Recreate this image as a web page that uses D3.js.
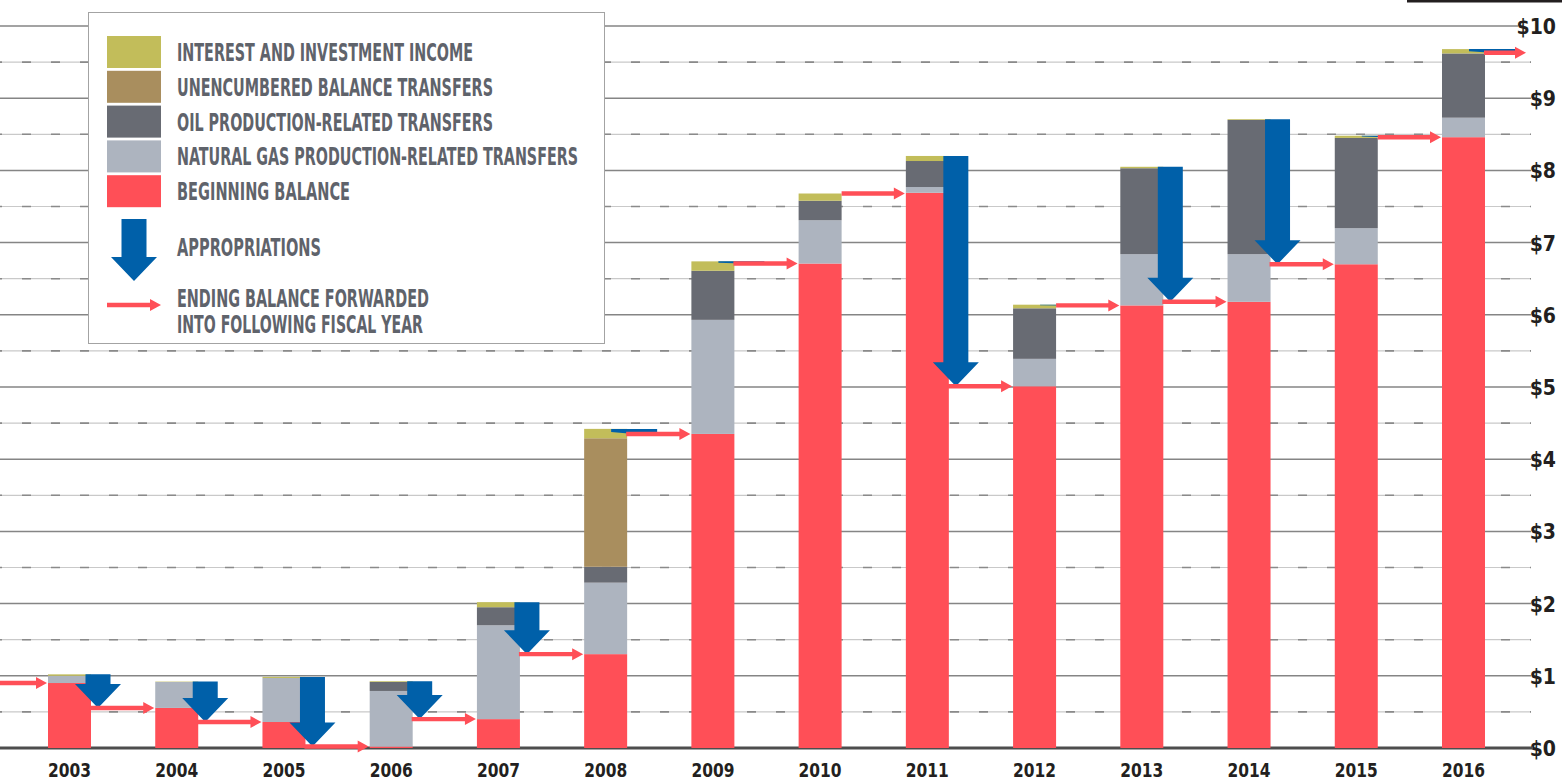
<!DOCTYPE html>
<html>
<head>
<meta charset="utf-8">
<script src="https://cdn.jsdelivr.net/npm/d3@7"></script>
<style>
  body { margin: 0; background: #fff; }
  svg text { font-family: "Liberation Sans Narrow", "DejaVu Sans Condensed", "Roboto", sans-serif; font-weight: bold; font-stretch: condensed; }
</style>
</head>
<body>
<div id="chart"></div>
<script>
// values in $ billions
var years = ["2003","2004","2005","2006","2007","2008","2009","2010","2011","2012","2013","2014","2015","2016"];
var beginning    = [0.90, 0.555, 0.36, 0.02, 0.40, 1.30, 4.35, 6.71, 7.69, 5.01, 6.13, 6.18, 6.70, 8.46];
var gas          = [0.10, 0.36, 0.61, 0.77, 1.30, 0.99, 1.58, 0.60, 0.08, 0.38, 0.71, 0.66, 0.50, 0.27];
var oil          = [0.00, 0.00, 0.00, 0.125, 0.25, 0.22, 0.68, 0.27, 0.36, 0.70, 1.19, 1.86, 1.25, 0.89];
var unencumbered = [0, 0, 0, 0, 0, 1.78, 0, 0, 0, 0, 0, 0, 0, 0];
var interest     = [0.02, 0.005, 0.015, 0.01, 0.07, 0.13, 0.13, 0.10, 0.07, 0.05, 0.02, 0.01, 0.03, 0.06];
// ending balance forwarded into the following fiscal year
var ending       = [0.555, 0.36, 0.02, 0.40, 1.30, 4.35, 6.71, 7.68, 5.01, 6.13, 6.18, 6.70, 8.46, 9.63];
var yTicks = [0,1,2,3,4,5,6,7,8,9,10];

var legendItems = [
  {key: "interest", label: "INTEREST AND INVESTMENT INCOME", w: 296},
  {key: "unencumbered", label: "UNENCUMBERED BALANCE TRANSFERS", w: 316},
  {key: "oil", label: "OIL PRODUCTION-RELATED TRANSFERS", w: 316},
  {key: "gas", label: "NATURAL GAS PRODUCTION-RELATED TRANSFERS", w: 401},
  {key: "beginning", label: "BEGINNING BALANCE", w: 173}
];

var colors = {
  beginning: "#ff4f57",
  gas: "#adb4bf",
  oil: "#686b73",
  unencumbered: "#a98e5e",
  interest: "#c2bd5a"
};
var blue = "#0060a9", red = "#ff4f57";

var width = 1562, height = 784;

var svg = d3.select("#chart")
  .append("svg")
    .attr("width", width)
    .attr("height", height);

var x = d3.scaleBand()
  .domain(years)
  .range([48, 1485])
  .paddingInner(0.599)
  .paddingOuter(0);

var y = d3.scaleLinear()
  .domain([0, 10])
  .range([748, 26]);

// top rule
svg.append("line")
  .attr("x1", 1407).attr("x2", width)
  .attr("y1", 1).attr("y2", 1)
  .attr("stroke", "#231f20").attr("stroke-width", 3);

// y labels on the right
svg.append("g")
  .selectAll("text")
  .data(yTicks)
  .enter()
  .append("text")
    .attr("x", 1556)
    .attr("y", function (d) { return y(d); })
    .attr("dy", "0.38em")
    .attr("text-anchor", "end")
    .attr("font-size", 21)
    .attr("fill", "#231f20")
    .text(function (d) { return "$" + d; });

// grid lines, integer ones solid, half ones light with dashes
var grid = svg.append("g");
yTicks.forEach(function (d) {
  if (d === 0) return;
  grid.append("line")
    .attr("x1", 0).attr("x2", d === 10 ? 1518 : 1531)
    .attr("y1", y(d)).attr("y2", y(d))
    .attr("stroke", "#858585").attr("stroke-width", 1.5);
  var h = y(d - 0.5);
  grid.append("line")
    .attr("x1", 0).attr("x2", 1531)
    .attr("y1", h).attr("y2", h)
    .attr("stroke", "#c9c9c9").attr("stroke-width", 1.2);
  grid.append("line")
    .attr("x1", 0).attr("x2", 1531)
    .attr("y1", h).attr("y2", h)
    .attr("stroke", "#8a8a8a").attr("stroke-width", 1.6)
    .attr("stroke-dasharray", "9,20")
    .attr("stroke-dashoffset", 7);
});

// baseline
svg.append("line")
  .attr("x1", 0).attr("x2", 1533)
  .attr("y1", y(0)).attr("y2", y(0))
  .attr("stroke", "#4d4d4d").attr("stroke-width", 3);

// legend
var lg = svg.append("g");
lg.append("rect")
  .attr("x", 88.5).attr("y", 12.5)
  .attr("width", 516).attr("height", 331)
  .attr("fill", "#fff").attr("stroke", "#a3a3a3").attr("stroke-width", 1);

legendItems.forEach(function (it, i) {
  lg.append("rect")
    .attr("x", 107).attr("y", 36 + i * 34.8)
    .attr("width", 54).attr("height", 32)
    .attr("fill", colors[it.key]);
  lg.append("text")
    .attr("x", 177).attr("y", 61 + i * 34.8)
    .attr("font-size", 25)
    .attr("fill", "#5f636b")
    .attr("textLength", it.w)
    .attr("lengthAdjust", "spacingAndGlyphs")
    .text(it.label);
});

function downArrow(cx, top, bottom) {
  var h = bottom - top, hw = 23, sw = 12.5, hh;
  if (h >= 24) {
    hh = 24;
    return "M" + (cx - sw) + "," + top + "H" + (cx + sw) + "V" + (bottom - hh) +
      "H" + (cx + hw) + "L" + cx + "," + bottom + "L" + (cx - hw) + "," + (bottom - hh) +
      "H" + (cx - sw) + "Z";
  }
  hh = h * 0.4;
  return "M" + (cx - hw) + "," + top + "H" + (cx + hw) + "V" + (bottom - hh) +
    "L" + cx + "," + bottom + "L" + (cx - hw) + "," + (bottom - hh) + "Z";
}

function rightArrow(x1, x2, yy) {
  return "M" + x1 + "," + (yy - 2.2) + "H" + (x2 - 11) + "V" + (yy - 6) +
    "L" + x2 + "," + yy + "L" + (x2 - 11) + "," + (yy + 6) + "V" + (yy + 2.2) +
    "H" + x1 + "Z";
}

// legend arrows
lg.append("path").attr("d", downArrow(134, 219, 281)).attr("fill", blue);
lg.append("path").attr("d", rightArrow(107, 161, 305)).attr("fill", red);
lg.append("text").attr("x", 177).attr("y", 256).attr("font-size", 25)
  .attr("fill", "#5f636b").attr("textLength", 144).attr("lengthAdjust", "spacingAndGlyphs")
  .text("APPROPRIATIONS");
lg.append("text").attr("x", 177).attr("y", 307).attr("font-size", 25)
  .attr("fill", "#5f636b").attr("textLength", 252).attr("lengthAdjust", "spacingAndGlyphs")
  .text("ENDING BALANCE FORWARDED");
lg.append("text").attr("x", 177).attr("y", 333).attr("font-size", 25)
  .attr("fill", "#5f636b").attr("textLength", 246).attr("lengthAdjust", "spacingAndGlyphs")
  .text("INTO FOLLOWING FISCAL YEAR");

// stacked bars
var rows = years.map(function (yr, i) {
  return {year: yr, beginning: beginning[i], gas: gas[i], oil: oil[i],
          unencumbered: unencumbered[i], interest: interest[i]};
});
var keys = ["beginning", "gas", "oil", "unencumbered", "interest"];
var series = d3.stack().keys(keys)(rows);

svg.append("g")
  .selectAll("g")
  .data(series)
  .enter()
  .append("g")
    .attr("fill", function (d) { return colors[d.key]; })
  .selectAll("rect")
  .data(function (d) { return d; })
  .enter()
  .append("rect")
    .attr("x", function (d) { return x(d.data.year); })
    .attr("y", function (d) { return y(d[1]); })
    .attr("width", x.bandwidth())
    .attr("height", function (d) { return Math.max(0, y(d[0]) - y(d[1])); });

// appropriations arrows
var totals = rows.map(function (r) { return r.beginning + r.gas + r.oil + r.unencumbered + r.interest; });
var tipX = function (yr) { return x(yr) + x.bandwidth() + 7; };

svg.append("g")
  .selectAll("path")
  .data(years)
  .enter()
  .append("path")
    .attr("d", function (d, i) { return downArrow(tipX(d), y(totals[i]), y(ending[i])); })
    .attr("fill", blue);

// ending balance arrows
var ar = svg.append("g");
ar.append("path")
  .attr("d", rightArrow(0, x(years[0]) - 1, y(beginning[0])))
  .attr("fill", red);
years.forEach(function (yr, i) {
  var x2 = i < years.length - 1 ? x(years[i + 1]) - 1 : 1526;
  var x1 = (totals[i] - ending[i]) < 0.02 ? x(yr) + x.bandwidth() : tipX(yr) - 8;
  ar.append("path")
    .attr("d", rightArrow(x1, x2, y(ending[i])))
    .attr("fill", red);
});

// year labels
svg.append("g")
  .selectAll("text")
  .data(years)
  .enter()
  .append("text")
    .attr("x", function (d) { return x(d) + x.bandwidth() / 2; })
    .attr("y", 777)
    .attr("text-anchor", "middle")
    .attr("font-size", 20)
    .attr("fill", "#231f20")
    .attr("textLength", 43)
    .attr("lengthAdjust", "spacingAndGlyphs")
    .text(function (d) { return d; });
</script>
</body>
</html>
